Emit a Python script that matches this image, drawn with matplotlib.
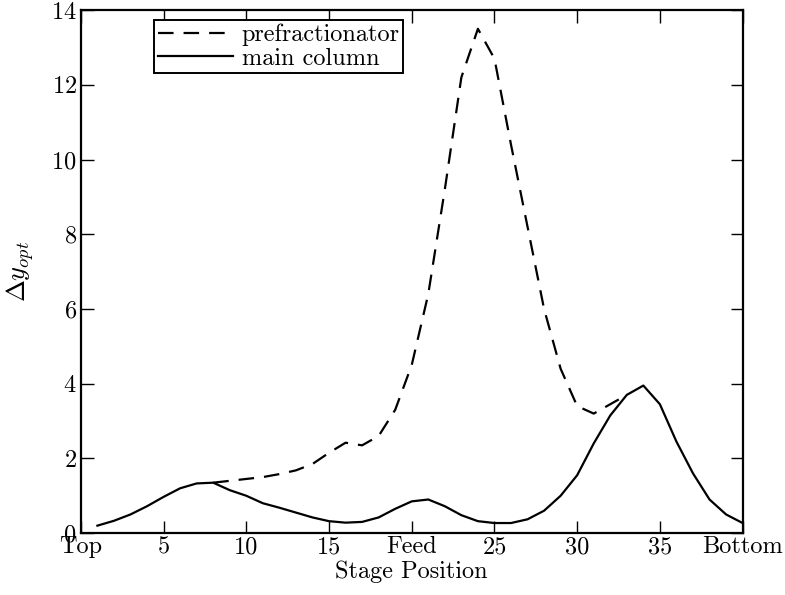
import numpy as np
import matplotlib
matplotlib.use('Agg')
import matplotlib.pyplot as plt

plt.rcParams['font.family'] = 'serif'
plt.rcParams['font.serif'] = ['cmr10', 'DejaVu Serif']
plt.rcParams['mathtext.fontset'] = 'cm'
plt.rcParams['axes.formatter.use_mathtext'] = True

# Datos
stages_main = np.arange(1, 41)
main_column = [0.2, 0.33, 0.5, 0.72, 0.97, 1.2, 1.33, 1.35, 1.15, 1.0,
               0.8, 0.68, 0.55, 0.42, 0.32, 0.28, 0.3, 0.42, 0.65, 0.85,
               0.9, 0.72, 0.48, 0.32, 0.27, 0.27, 0.37, 0.6, 1.0, 1.55,
               2.4, 3.15, 3.7, 3.95, 3.45, 2.45, 1.6, 0.9, 0.5, 0.27]

stages_pre = np.arange(8, 34)
prefractionator = [1.35, 1.4, 1.45, 1.5, 1.58, 1.68, 1.85, 2.15, 2.42, 2.35,
                   2.6, 3.3, 4.5, 6.4, 9.2, 12.2, 13.5, 12.7, 10.4, 8.2,
                   6.0, 4.4, 3.4, 3.2, 3.45, 3.7]

tick_pos = [0, 5, 10, 15, 20, 25, 30, 35, 40]
tick_labels = ['Top', '5', '10', '15', 'Feed', '25', '30', '35', 'Bottom']

fig = plt.figure(figsize=(7.85, 5.95), dpi=100)
ax = fig.add_axes([0.103, 0.104, 0.843, 0.879])

ax.plot(stages_pre, prefractionator, 'k--', lw=1.6, dashes=(7, 4.5), label='prefractionator')
ax.plot(stages_main, main_column, 'k-', lw=1.6, label='main column')

ax.set_xlim(0, 40)
ax.set_ylim(0, 14)
ax.set_xticks(tick_pos)
ax.set_xticklabels(tick_labels)
ax.set_yticks(np.arange(0, 15, 2))

ax.tick_params(direction='in', length=9, width=1, top=True, right=True, labelsize=17.5, pad=3)
ax.tick_params(axis='x', pad=2)
for s in ax.spines.values():
    s.set_linewidth(1.6)

ax.set_xlabel('Stage Position', fontsize=17.5, labelpad=2)
ax.set_ylabel(r'$\Delta y_{opt}$', fontsize=19, labelpad=11)

leg = ax.legend(loc='upper left', bbox_to_anchor=(0.111, 0.981), borderaxespad=0,
                fancybox=False, edgecolor='k', framealpha=1, fontsize=17.5,
                handlelength=3.1, borderpad=0.15, labelspacing=0.05, handletextpad=0.35)
leg.get_frame().set_linewidth(1.4)

plt.savefig('out.png', dpi=100)
